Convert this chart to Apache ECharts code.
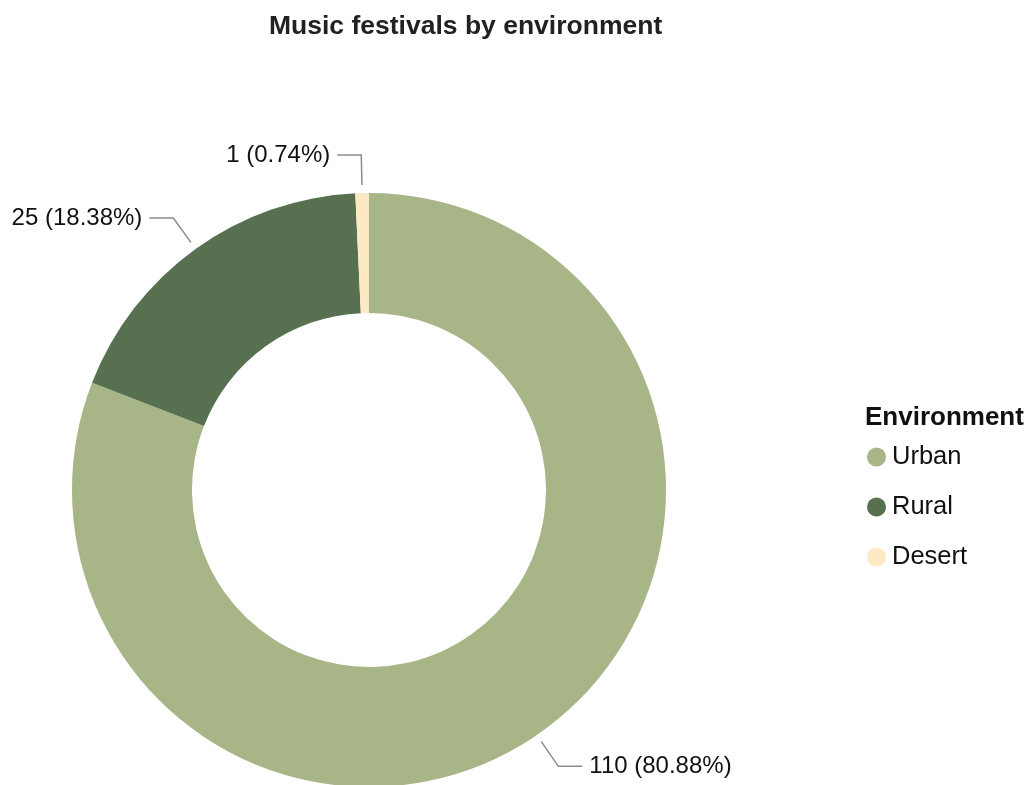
<!DOCTYPE html>
<html>
<head>
<meta charset="utf-8">
<style>
  html, body { margin: 0; padding: 0; background: #ffffff; }
  #chart { width: 1034px; height: 785px; }
</style>
<script src="https://cdn.jsdelivr.net/npm/echarts@6/dist/echarts.min.js"></script>
</head>
<body>
<div id="chart"></div>
<script>
// Festival counts per environment
const categories = ['Urban', 'Rural', 'Desert'];
const counts = [110, 25, 1];
const colors = ['#a8b587', '#567050', '#fde9c4'];

const FONT = '"Liberation Sans", Arial, sans-serif';
const center = [369, 490];

const sliceData = categories.map((name, i) => ({
  name: name,
  value: counts[i],
  itemStyle: { color: colors[i] }
}));

const chart = echarts.init(document.getElementById('chart'), null, { renderer: 'canvas' });

chart.setOption({
  backgroundColor: '#ffffff',
  animation: false,
  title: [
    {
      text: 'Music festivals by environment',
      left: 264,
      top: 8,
      textStyle: { fontFamily: FONT, fontSize: 26.5, fontWeight: 'bold', color: '#222222' }
    },
    {
      text: 'Environment',
      left: 860,
      top: 400,
      textStyle: { fontFamily: FONT, fontSize: 26, fontWeight: 'bold', color: '#111111' }
    }
  ],
  legend: {
    orient: 'vertical',
    left: 862,
    top: 439,
    data: categories,
    icon: 'circle',
    itemWidth: 19,
    itemHeight: 19,
    itemGap: 24,
    selectedMode: false,
    textStyle: { fontFamily: FONT, fontSize: 25.5, color: '#111111', lineHeight: 24, padding: [0, 0, 0, 1] }
  },
  series: [
    {
      // the donut itself
      type: 'pie',
      center: center,
      radius: [177, 297],
      startAngle: 90,
      clockwise: true,
      silent: true,
      label: { show: false },
      labelLine: { show: false },
      data: sliceData
    },
    {
      // value labels with leader lines, drawn slightly off the ring
      type: 'pie',
      center: center,
      radius: [305, 305],
      startAngle: 90,
      clockwise: true,
      silent: true,
      avoidLabelOverlap: false,
      itemStyle: { color: 'transparent', borderWidth: 0 },
      label: {
        show: true,
        formatter: '{c} ({d}%)',
        fontFamily: FONT,
        fontSize: 24,
        color: '#111111',
        distanceToLabelLine: 7
      },
      labelLine: {
        show: true,
        length: 30,
        length2: 24,
        lineStyle: { color: '#8c8c8c', width: 1.5 }
      },
      data: categories.map((name, i) => ({ name: name, value: counts[i] }))
    }
  ]
});
</script>
</body>
</html>
